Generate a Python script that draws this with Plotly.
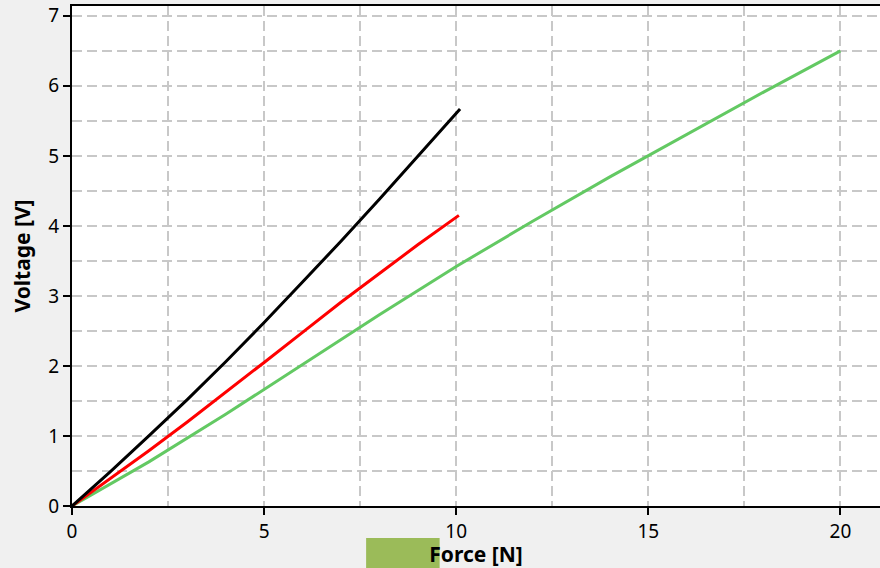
import plotly.graph_objects as go

# Data
black_x = [0, 1, 2, 3, 4, 5, 6, 7, 8, 9, 10.1]
black_y = [0, 0.49, 1.0, 1.52, 2.06, 2.62, 3.2, 3.78, 4.38, 5.0, 5.67]

red_x = [0, 1, 2, 3, 4, 5, 6, 7, 8, 9, 10.07]
red_y = [0, 0.39, 0.79, 1.2, 1.62, 2.05, 2.48, 2.91, 3.32, 3.73, 4.15]

green_x = [0, 2, 4, 6, 8, 10, 12, 14, 16, 18, 20]
green_y = [0, 0.63, 1.31, 2.02, 2.73, 3.42, 4.07, 4.70, 5.31, 5.91, 6.5]

x_title = "Force [N]"
y_title = "Voltage [V]"

FONT = "Noto Sans"

fig = go.Figure()
for xs, ys, col in [(green_x, green_y, "#63c963"), (red_x, red_y, "#ff0000"), (black_x, black_y, "#000000")]:
    fig.add_trace(go.Scatter(x=xs, y=ys, mode="lines", line=dict(color=col, width=3), showlegend=False))

grid = dict(showgrid=True, gridcolor="#c8c8c8", griddash="10px,5px", gridwidth=1.5)
minor_style = dict(showgrid=True, gridcolor="#c8c8c8", griddash="10px,5px", gridwidth=1.5)

fig.update_layout(
    width=880, height=568,
    margin=dict(l=72, r=0, t=6, b=62),
    paper_bgcolor="#f0f0f0", plot_bgcolor="#ffffff",
    font=dict(family=FONT, size=19, color="#000000"),
    xaxis=dict(range=[0, 21.03], dtick=5, tick0=0, ticks="outside", ticklen=7, tickwidth=2,
               tickcolor="#000", showline=True, linecolor="#000", linewidth=2, mirror=True,
               zeroline=False, minor=dict(dtick=2.5, **minor_style),
               title=dict(text="<b>" + x_title + "</b>", font=dict(size=21), standoff=4),
               **grid),
    yaxis=dict(range=[0, 7.14], dtick=1, tick0=0, ticks="outside", ticklen=7, tickwidth=2,
               tickcolor="#000", showline=True, linecolor="#000", linewidth=2,
               zeroline=False, minor=dict(dtick=0.5, **minor_style),
               title=dict(text="<b>" + y_title + "</b>", font=dict(size=21), standoff=12),
               **grid),
    shapes=[dict(type="rect", xref="paper", yref="paper", x0=0.364, x1=0.455, y0=-0.064, y1=-0.13,
                 fillcolor="#9bbb59", line=dict(width=0), layer="below")],
)

fig.write_html("out.html", config={"displayModeBar": False},
               post_script="document.body.style.margin='0';document.body.style.overflow='hidden';")
